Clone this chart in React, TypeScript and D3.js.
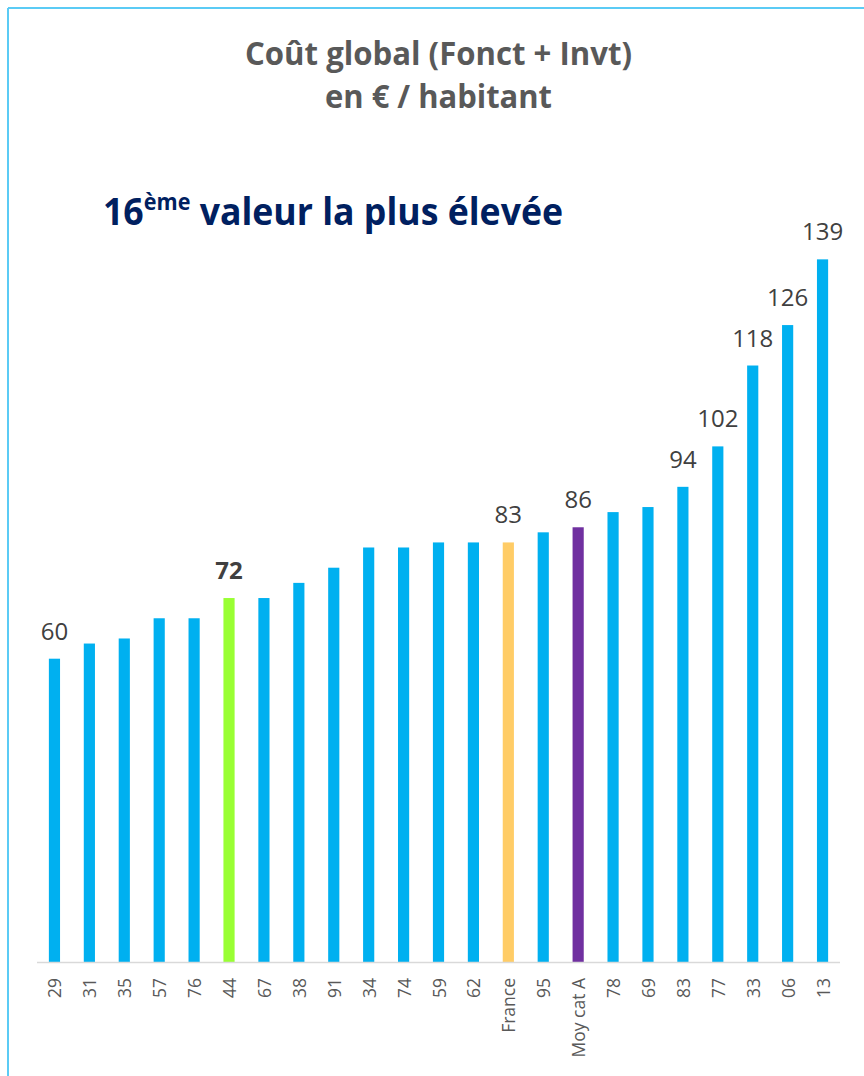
import React from "react";
import * as d3 from "d3";

const categories = ["29","31","35","57","76","44","67","38","91","34","74","59","62","France","95","Moy cat A","78","69","83","77","33","06","13"];
const values = [60,63,64,68,68,72,72,75,78,82,82,83,83,83,85,86,89,90,94,102,118,126,139];
const labelled = ["29","44","France","Moy cat A","83","77","33","06","13"];
const highlight: Record<string, string> = { "44": "#99FF33", "France": "#FFCC66", "Moy cat A": "#7030A0" };
const titleLines = ["Coût global (Fonct + Invt)", "en € / habitant"];

const W = 864, H = 1076;

export default function App() {
  const x = d3.scaleBand<string>().domain(categories).range([37, 840]).paddingInner(0.68).paddingOuter(0.34);
  const y = d3.scaleLinear().domain([0, 140]).range([962, 962 - 140 * 5.055]);
  const font = "'Open Sans', 'DejaVu Sans', sans-serif";
  return (
    <svg width={W} height={H} style={{ position: "absolute", left: 0, top: 0, background: "#fff" }} fontFamily={font}>
      <rect x={0} y={0} width={W} height={H} fill="#fff" />
      <line x1={8} y1={8} x2={W} y2={8} stroke="#5BCBF5" strokeWidth={2} />
      <line x1={8} y1={8} x2={8} y2={H} stroke="#5BCBF5" strokeWidth={2} />
      <text x={438.5} y={65} textAnchor="middle" fontWeight="bold" fontSize={33} fill="#595959" textLength={387} lengthAdjust="spacingAndGlyphs">{titleLines[0]}</text>
      <text x={438.5} y={108} textAnchor="middle" fontWeight="bold" fontSize={33} fill="#595959" textLength={227} lengthAdjust="spacingAndGlyphs">{titleLines[1]}</text>
      <text x={103} y={225} fontWeight="bold" fontSize={38} fill="#002060" textLength={460} lengthAdjust="spacingAndGlyphs">
        16<tspan fontSize={23} dy={-15}>ème</tspan><tspan dy={15}> valeur la plus élevée</tspan>
      </text>
      {categories.map((c, i) => (
        <rect key={c} x={x(c)} y={y(values[i])} width={x.bandwidth()} height={y(0) - y(values[i])} fill={highlight[c] || "#00B0F0"} />
      ))}
      <line x1={37} x2={840} y1={962.5} y2={962.5} stroke="#D9D9D9" strokeWidth={1.5} />
      {categories.map((c, i) =>
        labelled.includes(c) ? (
          <text key={"v" + c} x={x(c)! + x.bandwidth() / 2} y={y(values[i]) - 19} textAnchor="middle" fontSize={24}
            fontWeight={c === "44" ? "bold" : "normal"} fill="#404040">{values[i]}</text>
        ) : null
      )}
      {categories.map((c) => (
        <text key={"t" + c} transform={`translate(${x(c)! + x.bandwidth() / 2},978) rotate(-90)`} textAnchor="end" dominantBaseline="central"
          fontSize={17.5} fill="#595959">{c}</text>
      ))}
    </svg>
  );
}
